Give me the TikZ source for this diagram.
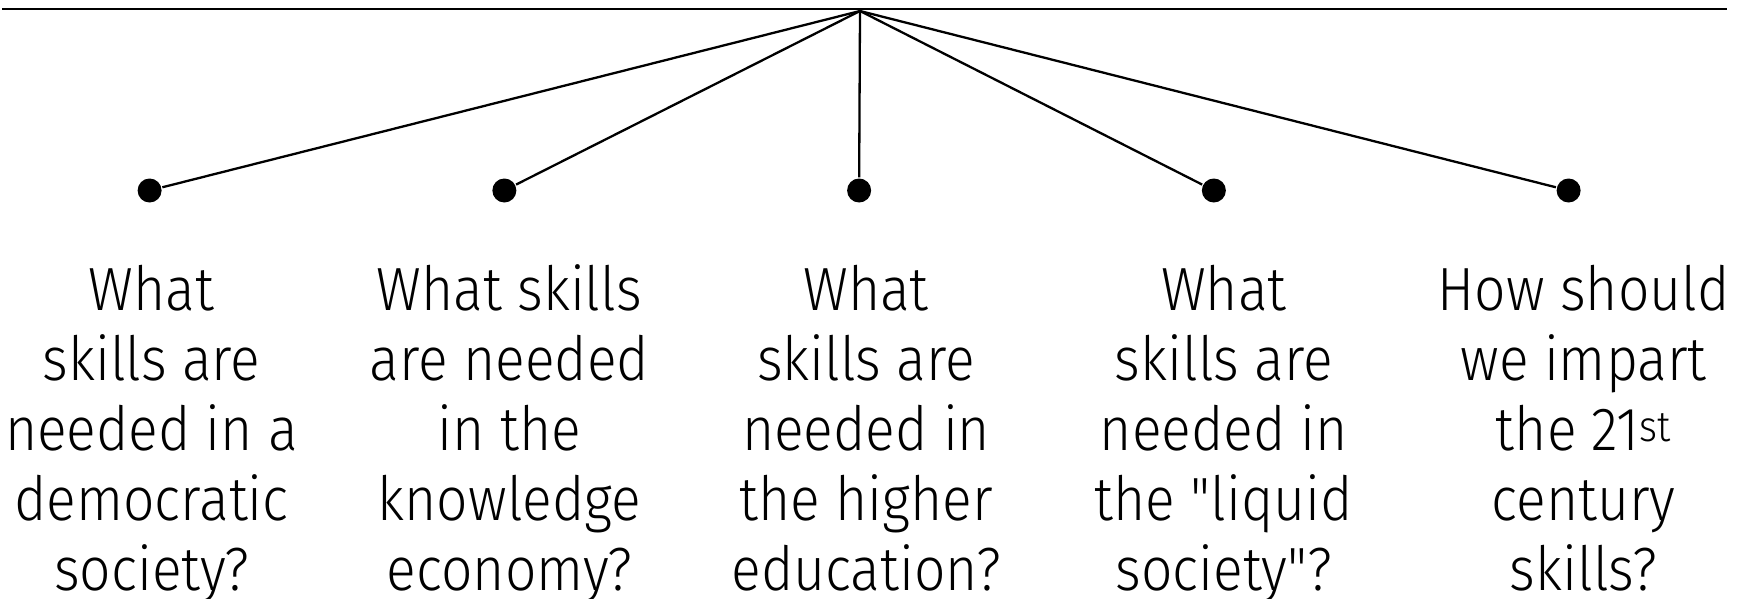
\documentclass[tikz,border=0pt]{standalone}
\usepackage{fontspec}
\setmainfont{Fira Sans Light}[FakeStretch=0.905,Ligatures=TeXOff]
\usetikzlibrary{positioning}

\begin{document}
\begin{tikzpicture}[-,line width=2.3pt,node distance=354.75pt,
    dot/.style={circle,fill=black,inner sep=0pt,minimum size=24pt},
    question/.style={align=center,inner sep=0pt,anchor=north,font=\fontsize{61}{70}\selectfont}]

                \useasboundingbox (0pt,0pt) rectangle (1737pt,-599pt);

                % the bar and the point where the lines meet
                \coordinate (left) at (2pt,-9pt);
                \coordinate (right) at (1727pt,-9pt);
                \coordinate (top) at (860pt,-11pt);
                \draw (left) -- (right);

                \node[dot] (1) at (149.6pt,-190.5pt) {};
                \node[dot] (2) [right of = 1] {};
                \node[dot] (3) [right of = 2] {};
                \node[dot] (4) [right of = 3] {};
                \node[dot] (5) [right of = 4] {};

                \draw[-] (top) to (1);
                \draw[-] (top) to (2);
                \draw[-] (top) to (3);
                \draw[-] (top) to (4);
                \draw[-] (top) to (5);

                \node[question] (q1) [below=60pt of 1, xshift=2pt] {What\\skills are\\needed in a\\democratic\\society?};
                \node[question] (q2) [below=60pt of 2, xshift=5pt] {What skills\\are needed\\in the\\knowledge\\economy?};
                \node[question] (q3) [below=60pt of 3, xshift=7pt] {What\\skills are\\needed in\\the higher\\education?};
                \node[question] (q4) [below=60pt of 4, xshift=10pt] {What\\skills are\\needed in\\the "liquid\\society"?};
                \node[question] (q5) [below=60pt of 5, xshift=15pt] {How should\\we impart\\the 21\textsuperscript{st}\\century\\skills?};

                ;
            \end{tikzpicture}
\end{document}
